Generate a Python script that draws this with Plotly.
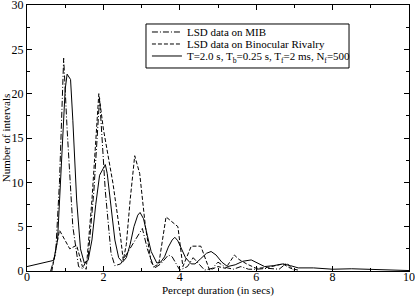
import plotly.graph_objects as go

# LSD data on MIB (dash-dot)
mib_x = [0.62, 0.75, 0.85, 0.96, 1.05, 1.2, 1.35, 1.45, 1.6, 1.75, 1.9, 2.05, 2.2, 2.3, 2.45,
         2.65, 2.85, 3.02, 3.15, 3.33, 3.5, 3.7, 3.8, 4.0, 4.2, 4.35, 4.5, 4.65, 4.85, 5.0,
         5.2, 5.4, 5.6, 5.8, 6.0, 6.3, 6.6, 6.8, 7.0]
mib_y = [0.0, 2.0, 10.0, 24.0, 16.0, 5.0, 0.5, 0.3, 1.5, 9.0, 19.5, 9.0, 2.0, 0.6, 0.8,
         2.2, 3.5, 4.8, 2.5, 0.3, 0.8, 1.8, 1.6, 0.1, 0.5, 1.5, 0.8, 0.1, 0.3, 1.0,
         0.4, 0.2, 0.5, 0.2, 0.2, 0.3, 0.2, 0.9, 0.0]

# LSD data on Binocular Rivalry (dashed)
br_x = [0.65, 0.85, 1.12, 1.3, 1.45, 1.55, 1.7, 1.88, 2.0, 2.1, 2.25, 2.45, 2.52, 2.6, 2.7,
        2.82, 2.95, 3.1, 3.25, 3.33, 3.45, 3.64, 3.8, 3.95, 4.08, 4.3, 4.55, 4.78, 5.0,
        5.2, 5.43, 5.55, 5.75, 6.0, 6.3, 6.5, 6.7, 6.9, 7.1]
br_y = [0.0, 4.6, 2.5, 2.9, 0.5, 0.2, 8.0, 20.0, 16.0, 13.5, 9.9, 3.8, 1.2, 3.0, 8.0,
        13.0, 11.0, 5.0, 1.0, 0.5, 0.8, 6.1, 5.5, 5.0, 0.5, 2.8, 2.8, 0.1, 0.5,
        0.3, 1.8, 1.3, 0.8, 0.3, 0.4, 0.6, 0.8, 0.3, 0.1]

# Model: T=2.0 s, Tb=0.25 s, Tf=2 ms, Nf=500 (solid)
model_x = [0, 0.2, 0.4, 0.6, 0.7, 0.8, 0.9, 1.0, 1.05, 1.14, 1.2, 1.3, 1.4, 1.5, 1.6, 1.7,
           1.8, 1.9, 2.0, 2.05, 2.1, 2.2, 2.3, 2.4, 2.5, 2.6, 2.7, 2.8, 2.9, 2.96, 3.05,
           3.15, 3.25, 3.4, 3.5, 3.6, 3.7, 3.8, 3.87, 3.95, 4.05, 4.15, 4.3, 4.4, 4.55,
           4.7, 4.82, 4.95, 5.1, 5.25, 5.45, 5.65, 5.87, 6.05, 6.22, 6.45, 6.7, 6.9, 7.1,
           7.5, 8.0, 8.5, 9.0, 9.5, 10.0]
model_y = [0.5, 0.7, 0.9, 1.1, 1.2, 3.5, 12.0, 20.5, 22.2, 21.6, 17.0, 8.0, 2.5, 0.9, 1.2, 3.5,
           7.5, 10.8, 11.6, 12.0, 11.0, 7.0, 3.5, 1.5, 1.0, 1.5, 3.0, 5.0, 6.3, 6.6, 5.9,
           4.0, 2.2, 0.9, 1.0, 1.6, 2.7, 3.5, 3.8, 3.4, 2.4, 1.5, 0.8, 0.8, 1.4,
           2.0, 2.2, 1.8, 1.0, 0.5, 0.7, 1.1, 1.25, 0.9, 0.5, 0.6, 0.8, 0.6, 0.35,
           0.35, 0.2, 0.25, 0.2, 0.15, 0.05]

series_names = ["LSD data on MIB", "LSD data on Binocular Rivalry",
                "T=2.0 s, T<sub>b</sub>=0.25 s, T<sub>f</sub>=2 ms, N<sub>f</sub>=500"]

x_ticks = [0, 2, 4, 6, 8, 10]
y_ticks = [0, 5, 10, 15, 20, 25, 30]

serif = "Liberation Serif, Times New Roman, serif"

fig = go.Figure()
fig.add_trace(go.Scatter(x=mib_x, y=mib_y, mode="lines", name=series_names[0], legend="legend",
                         line=dict(color="black", width=1, dash="6px,2px,1px,2px")))
fig.add_trace(go.Scatter(x=br_x, y=br_y, mode="lines", name=series_names[1], legend="legend2",
                         line=dict(color="black", width=1, dash="4px,2px")))
fig.add_trace(go.Scatter(x=model_x, y=model_y, mode="lines", name=series_names[2], legend="legend3",
                         line=dict(color="black", width=1)))

axis_common = dict(showgrid=False, zeroline=False, showline=True, linecolor="black",
                   linewidth=1, mirror="allticks", ticks="inside", ticklen=5,
                   tickcolor="black", tickwidth=1, automargin=False,
                   ticklabeloverflow="allow",
                   tickfont=dict(family=serif, size=12, color="black"))

fig.update_xaxes(range=[0, 10], tickvals=x_ticks, ticktext=[str(v) for v in x_ticks],
                 minor=dict(ticks="inside", ticklen=3, dtick=1, tickcolor="black"),
                 ticklabelstandoff=-5,
                 title=dict(text="Percept duration (in secs)", font=dict(family=serif, size=11, color="black"),
                            standoff=0),
                 **axis_common)
fig.update_yaxes(range=[0, 30], tickvals=y_ticks, ticktext=[str(v) for v in y_ticks],
                 minor=dict(ticks="inside", ticklen=3, dtick=2.5, tickcolor="black"),
                 title=dict(text="Number of intervals", font=dict(family=serif, size=11, color="black"),
                            standoff=0),
                 **axis_common)

leg_common = dict(x=0.314, xanchor="left", yanchor="middle", bgcolor="rgba(0,0,0,0)",
                  borderwidth=0, font=dict(family=serif, size=11, color="black"))

fig.update_layout(
    width=415, height=298,
    margin=dict(l=27, r=6, t=5, b=27),
    plot_bgcolor="white", paper_bgcolor="white",
    font=dict(family=serif, size=11, color="black"),
    legend=dict(y=0.8985, **leg_common),
    legend2=dict(y=0.8534, **leg_common),
    legend3=dict(y=0.8083, **leg_common),
    shapes=[dict(type="rect", xref="paper", yref="paper", x0=0.3115, x1=0.843,
                 y0=0.7632, y1=0.9286, line=dict(color="black", width=1),
                 fillcolor="rgba(0,0,0,0)", layer="above")],
    showlegend=True,
)

fig.write_html("out.html", config={"displayModeBar": False},
               post_script="document.body.style.margin='0px';")
